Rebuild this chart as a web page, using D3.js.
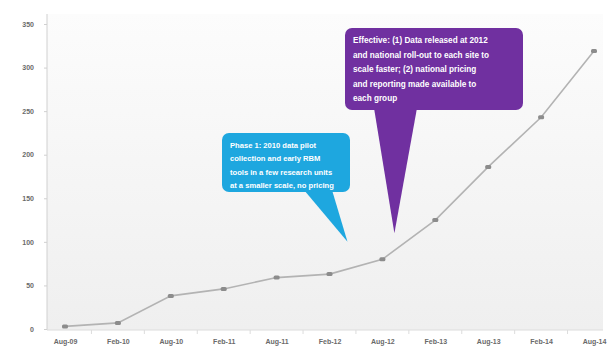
<!DOCTYPE html>
<html>
<head>
<meta charset="utf-8">
<script src="https://cdn.jsdelivr.net/npm/d3@7/dist/d3.min.js"></script>
<style>
  html, body { margin: 0; padding: 0; background: #ffffff; }
  svg { display: block; font-family: "Liberation Sans", "DejaVu Sans", sans-serif; }
</style>
</head>
<body>
<svg id="chart" width="610" height="347"></svg>
<script>
// Period labels along the x axis
const periods = ["Aug-09", "Feb-10", "Aug-10", "Feb-11", "Aug-11", "Feb-12",
                 "Aug-12", "Feb-13", "Aug-13", "Feb-14", "Aug-14"];
// Cumulative count per period
const counts = [3, 7, 38, 46, 59, 63, 80, 125, 186, 243, 319];
// Y axis tick values
const yTicks = [0, 50, 100, 150, 200, 250, 300, 350];

// Callout texts
const phaseOneLines = [
  "Phase 1: 2010 data pilot",
  "collection and early RBM",
  "tools in a few research units",
  "at a smaller scale, no pricing"
];
const phaseTwoLines = [
  "Effective: (1) Data released at 2012",
  "and national roll-out to each site to",
  "scale faster; (2) national pricing",
  "and reporting made available to",
  "each group"
];

const svg = d3.select("#chart");
const plotLeft = 47, plotRight = 603, plotTop = 14, plotBottom = 330;

const x = d3.scalePoint().domain(periods).range([65, 594]);
const y = d3.scaleLinear().domain([0, 350]).range([329, 24]);

// Plot background
const defs = svg.append("defs");
const grad = defs.append("linearGradient").attr("id", "bg").attr("x1", 0).attr("y1", 0).attr("x2", 0).attr("y2", 1);
grad.append("stop").attr("offset", "0%").attr("stop-color", "#fcfcfc");
grad.append("stop").attr("offset", "100%").attr("stop-color", "#efefef");
svg.append("rect").attr("x", plotLeft).attr("y", plotTop)
  .attr("width", plotRight - plotLeft).attr("height", plotBottom - plotTop)
  .attr("fill", "url(#bg)");

// Y axis
const yAxis = d3.axisLeft(y).tickValues(yTicks).tickSize(3).tickPadding(10);
const gy = svg.append("g").attr("transform", `translate(${plotLeft},0)`).call(yAxis);
gy.select(".domain").attr("stroke", "#d0d0d0").attr("d", `M0,${plotTop}V${plotBottom}`);
gy.selectAll(".tick line").attr("stroke", "#d0d0d0");
gy.selectAll(".tick text").attr("fill", "#6a6a6a").attr("font-size", 7).attr("font-weight", "bold");

// X axis
const xAxis = d3.axisBottom(x).tickSize(0).tickPadding(9);
const gx = svg.append("g").attr("transform", `translate(0,${plotBottom})`).call(xAxis);
gx.select(".domain").attr("stroke", "#dcdcdc").attr("d", `M${plotLeft},0H${plotRight}`);
gx.selectAll(".tick text").attr("fill", "#6a6a6a").attr("font-size", 7).attr("font-weight", "bold");
// small separators between categories
const step = x.step();
gx.selectAll(".sep").data(periods.slice(0, -1)).enter().append("line")
  .attr("x1", d => x(d) + step / 2).attr("x2", d => x(d) + step / 2)
  .attr("y1", 0).attr("y2", 4).attr("stroke", "#dcdcdc");

// Series line with markers
const line = d3.line().x((d, i) => x(periods[i])).y(d => y(d));
svg.append("path").datum(counts).attr("d", line)
  .attr("fill", "none").attr("stroke", "#b3b3b3").attr("stroke-width", 1.6);
svg.selectAll(".pt").data(counts).enter().append("rect")
  .attr("x", (d, i) => x(periods[i]) - 3).attr("y", d => y(d) - 2)
  .attr("width", 6).attr("height", 4).attr("rx", 1.5)
  .attr("fill", "#8c8c8c");

// Speech-bubble callout: rounded box plus a tapering tail to a target point
function callout(box, tail, tip, fill, lines, fontSize, lineGap) {
  const g = svg.append("g");
  g.append("path")
    .attr("d", `M${tail[0]},${box.y + box.h - 2}L${tip[0]},${tip[1]}L${tail[1]},${box.y + box.h - 2}Z`)
    .attr("fill", fill);
  g.append("rect").attr("x", box.x).attr("y", box.y).attr("width", box.w).attr("height", box.h)
    .attr("rx", 7).attr("fill", fill);
  g.selectAll("text").data(lines).enter().append("text")
    .attr("x", box.x + 8).attr("y", (d, i) => box.y + 15 + i * lineGap)
    .attr("fill", "#ffffff").attr("font-size", fontSize).attr("font-weight", "bold")
    .text(d => d);
}

// Phase 1 callout pointing at the line just after Feb-12
const tipBlue = [x("Feb-12") + step * 0.34, y(100)];
callout({x: 222, y: 133, w: 128, h: 59}, [304, 332], tipBlue, "#1ea7df", phaseOneLines, 7.6, 13.3);

// Phase 2 callout pointing just above the Aug-12 point
const tipPurple = [x("Aug-12") + 12, y(110)];
callout({x: 345, y: 28, w: 178, h: 82}, [374, 417], tipPurple, "#7030a0", phaseTwoLines, 8.2, 14.5);
</script>
</body>
</html>
